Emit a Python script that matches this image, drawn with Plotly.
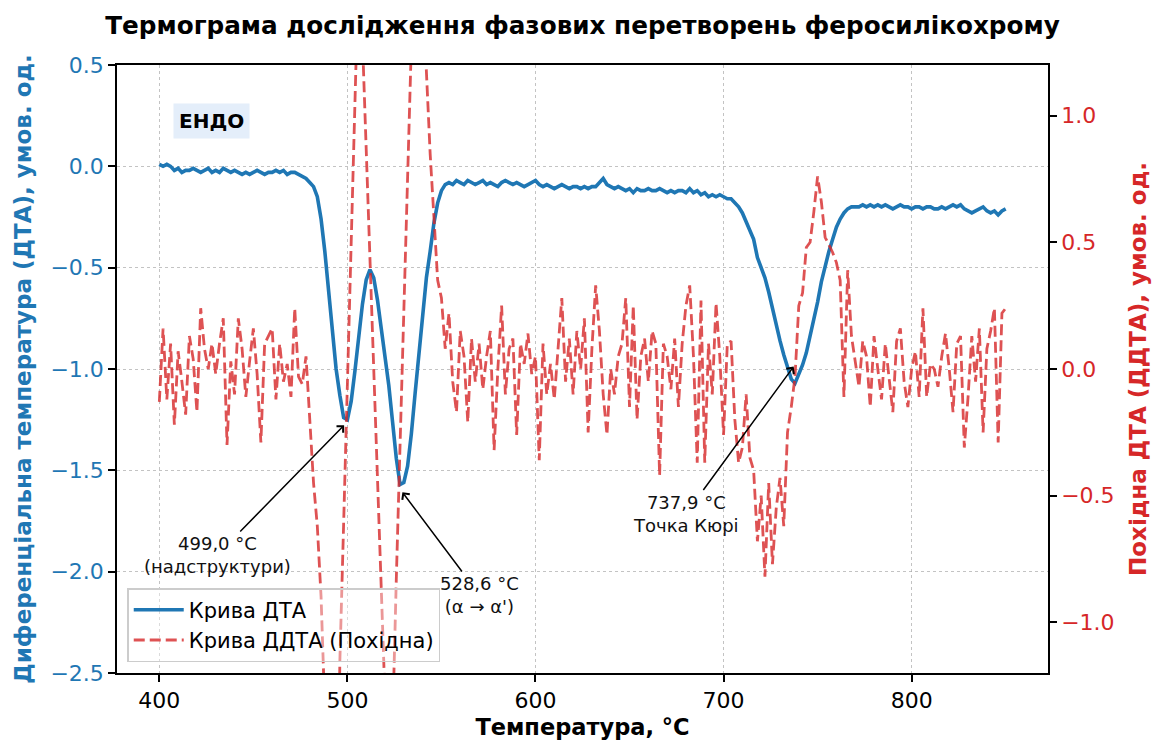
import plotly.graph_objects as go

# Temperature grid (°C), 2-degree step
temperature = list(range(400, 851, 2))

# DTA curve (left axis)
dta = [
    0.01, 0.0, 0.01, 0.0, -0.02, -0.01, -0.03, -0.02, -0.02, -0.01,        # 400-418
    -0.02, -0.03, -0.02, -0.01, -0.03, -0.02, -0.03, -0.01, -0.02, -0.03,  # 420-438
    -0.02, -0.03, -0.04, -0.03, -0.04, -0.03, -0.02, -0.03, -0.04, -0.03,  # 440-458
    -0.03, -0.02, -0.03, -0.02, -0.04, -0.03, -0.03, -0.04, -0.05, -0.06,  # 460-478
    -0.08, -0.1, -0.15, -0.26, -0.42, -0.62, -0.84, -1.0, -1.13, -1.24,    # 480-498
    -1.25, -1.16, -1.01, -0.85, -0.68, -0.56, -0.51, -0.55, -0.66, -0.8,   # 500-518
    -0.93, -1.08, -1.26, -1.44, -1.57, -1.56, -1.48, -1.32, -1.12, -0.92,  # 520-538
    -0.72, -0.55, -0.42, -0.28, -0.18, -0.12, -0.09, -0.08, -0.09, -0.07,  # 540-558
    -0.08, -0.09, -0.07, -0.08, -0.09, -0.08, -0.07, -0.09, -0.08, -0.09,  # 560-578
    -0.1, -0.08, -0.07, -0.08, -0.09, -0.08, -0.09, -0.1, -0.09, -0.08,    # 580-598
    -0.07, -0.09, -0.1, -0.09, -0.1, -0.11, -0.1, -0.09, -0.1, -0.11,      # 600-618
    -0.1, -0.1, -0.11, -0.1, -0.11, -0.1, -0.1, -0.08, -0.06, -0.09,       # 620-638
    -0.1, -0.11, -0.1, -0.11, -0.12, -0.11, -0.13, -0.11, -0.12, -0.12,    # 640-658
    -0.11, -0.12, -0.12, -0.11, -0.12, -0.13, -0.12, -0.13, -0.12, -0.12,  # 660-678
    -0.13, -0.11, -0.13, -0.12, -0.14, -0.13, -0.15, -0.14, -0.15, -0.14,  # 680-698
    -0.15, -0.16, -0.16, -0.18, -0.2, -0.23, -0.27, -0.32, -0.36, -0.45,   # 700-718
    -0.5, -0.55, -0.62, -0.7, -0.79, -0.86, -0.93, -0.99, -1.05, -1.07,    # 720-738
    -1.03, -0.98, -0.92, -0.84, -0.76, -0.67, -0.57, -0.49, -0.42, -0.36,  # 740-758
    -0.3, -0.26, -0.23, -0.21, -0.2, -0.2, -0.2, -0.19, -0.2, -0.19,       # 760-778
    -0.2, -0.19, -0.2, -0.19, -0.2, -0.21, -0.2, -0.19, -0.2, -0.2,        # 780-798
    -0.21, -0.2, -0.2, -0.21, -0.2, -0.2, -0.21, -0.21, -0.2, -0.21,       # 800-818
    -0.2, -0.19, -0.2, -0.19, -0.21, -0.22, -0.23, -0.22, -0.21, -0.2,     # 820-838
    -0.22, -0.23, -0.22, -0.24, -0.22, -0.21,                              # 840-850
]

# DDTA curve (derivative, right axis)
ddta = [
    -0.13, 0.16, -0.12, 0.1, -0.22, 0.07, -0.05, -0.18, 0.13, 0.04,        # 400-418
    -0.17, 0.24, 0.08, 0.0, 0.1, -0.02, 0.1, 0.2, -0.3, 0.03,              # 420-438
    -0.1, 0.2, 0.08, -0.11, 0.03, 0.16, -0.02, -0.29, 0.1, 0.13,           # 440-458
    0.16, -0.12, 0.1, -0.05, 0.02, -0.11, 0.24, -0.03, -0.06, 0.05,        # 460-478
    -0.2, -0.45, -0.62, -0.9, -1.35, -2.5, -3.0, -2.2, -1.15, -0.61,       # 480-498
    -0.08, 0.45, 0.99, 1.6, 1.3, 0.88, 0.44, 0.01, -0.42, -0.85,           # 500-518
    -1.3, -2.0, -1.36, -0.83, -0.3, 0.23, 0.75, 1.28, 2.0, 1.9,            # 520-538
    1.5, 1.15, 0.85, 0.6, 0.35, 0.28, 0.08, 0.22, -0.05, -0.17,            # 540-558
    0.15, 0.05, -0.21, 0.12, -0.05, 0.1, -0.08, 0.05, 0.15, -0.32,         # 560-578
    0.0, 0.25, -0.1, 0.08, 0.12, -0.26, 0.1, 0.02, 0.14, -0.02,            # 580-598
    0.05, -0.36, 0.1, -0.1, 0.02, -0.12, 0.1, 0.28, -0.05, 0.12,           # 600-618
    -0.1, 0.15, 0.0, 0.2, -0.25, 0.08, 0.33, 0.15, -0.1, -0.26,            # 620-638
    0.0, -0.1, 0.05, 0.1, 0.28, -0.15, 0.25, -0.2, 0.05, 0.12,             # 640-658
    -0.05, 0.15, 0.1, -0.42, 0.1, 0.05, -0.08, 0.12, -0.15, 0.1,           # 660-678
    0.25, 0.33, 0.05, -0.37, 0.27, -0.37, 0.1, -0.1, 0.26, 0.05,           # 680-698
    -0.26, 0.1, 0.11, -0.2, -0.37, -0.31, -0.1, -0.35, -0.4, -0.68,        # 700-718
    -0.5, -0.82, -0.45, -0.77, -0.55, -0.43, -0.62, -0.25, -0.15, -0.03,   # 720-738
    0.25, 0.3, 0.48, 0.5, 0.62, 0.76, 0.66, 0.52, 0.49, 0.46,              # 740-758
    0.42, 0.35, -0.11, 0.39, 0.13, 0.03, -0.07, 0.11, 0.05, -0.15,         # 760-778
    0.13, 0.0, -0.12, 0.1, -0.03, -0.17, 0.11, 0.16, -0.05, -0.15,         # 780-798
    0.0, 0.07, -0.11, 0.24, -0.11, 0.02, 0.0, -0.07, 0.05, 0.14,           # 800-818
    0.0, -0.17, 0.1, 0.13, -0.31, -0.11, 0.13, -0.05, 0.16, -0.25,         # 820-838
    0.08, 0.15, 0.24, -0.29, 0.22, 0.24,                                   # 840-850
]

x_ticks = [400, 500, 600, 700, 800]
left_ticks = [0.5, 0.0, -0.5, -1.0, -1.5, -2.0, -2.5]
right_ticks = [1.0, 0.5, 0.0, -0.5, -1.0]

# Annotated peaks: (point T, point value, text T, text value, label)
peaks_t = [499.0, 528.6, 737.9]
peaks_v = [-1.27, -1.6, -0.98]
labels_t = [430.8, 570.3, 680.1]
labels_v = [-1.918, -2.115, -1.713]
peak_texts = ["499,0 °C<br>(надструктури)", "528,6 °C<br>(α → α')", "737,9 °C<br>Точка Кюрі"]

BLUE = "#1f77b4"
RED = "#d62728"
FONT = "DejaVu Sans"

fig = go.Figure()
fig.add_trace(go.Scatter(
    x=temperature, y=dta, mode="lines", name="Крива ДТА",
    line=dict(color=BLUE, width=3.6), yaxis="y",
))
fig.add_trace(go.Scatter(
    x=temperature, y=ddta, mode="lines", name="Крива ДДТА (Похідна)",
    line=dict(color="rgba(214,39,40,0.8)", width=2.8, dash="11px,5px"), yaxis="y2",
))

annotations = []
for pt, pv, lt, lv, txt in zip(peaks_t, peaks_v, labels_t, labels_v, peak_texts):
    annotations.append(dict(
        x=pt, y=pv, xref="x", yref="y", ax=lt, ay=lv, axref="x", ayref="y",
        text=txt, showarrow=True, arrowhead=4, arrowsize=1.2, arrowwidth=1.5,
        arrowcolor="black", standoff=2, font=dict(family=FONT, size=18, color="#111"),
        align="center",
    ))
annotations.append(dict(
    x=0.102, y=0.908, xref="paper", yref="paper", text="<b>ЕНДО</b>", showarrow=False,
    font=dict(family=FONT, size=20, color="black"), bgcolor="#e4eefa", borderpad=5,
    xanchor="center", yanchor="middle",
))

fig.update_layout(
    width=1155, height=740,
    margin=dict(l=117, r=107, t=65, b=67),
    paper_bgcolor="white", plot_bgcolor="white",
    font=dict(family=FONT, size=22, color="black"),
    title=dict(
        text="<b>Термограма дослідження фазових перетворень феросилікохрому</b>",
        x=0.5, xref="paper", xanchor="center", y=1 - 25 / 740, yref="container", yanchor="middle",
        font=dict(family=FONT, size=24.7, color="black"),
    ),
    xaxis=dict(
        range=[377.5, 872.5], tickvals=x_ticks, ticks="outside", ticklen=7, tickwidth=1.6,
        tickcolor="black", showline=True, linecolor="black", linewidth=1.6, mirror=True,
        showgrid=True, gridcolor="rgba(170,170,170,0.7)", gridwidth=1.4, griddash="dot",
        zeroline=False, tickfont=dict(size=22, color="black"), automargin=False,
        title=dict(text="<b>Температура, °C</b>", font=dict(size=22.5, color="black"), standoff=14),
    ),
    yaxis=dict(
        range=[-2.5, 0.5], tickvals=left_ticks, tickformat=".1f", ticks="outside", ticklen=7,
        tickwidth=1.6, tickcolor="black", showline=True, linecolor="black", linewidth=1.6,
        showgrid=True, gridcolor="rgba(170,170,170,0.7)", gridwidth=1.4, griddash="dot",
        zeroline=False, tickfont=dict(size=22, color=BLUE), automargin=False,
        title=dict(text="<b>Диференціальна температура (ДТА), умов. од.</b>",
                   font=dict(size=23, color=BLUE), standoff=12),
    ),
    yaxis2=dict(
        range=[-1.2, 1.2], tickvals=right_ticks, tickformat=".1f", overlaying="y", side="right",
        ticks="outside", ticklen=7, tickwidth=1.6, tickcolor="black", showline=True,
        linecolor="black", linewidth=1.6, showgrid=False, zeroline=False, automargin=False,
        tickfont=dict(size=22, color=RED),
        title=dict(text="<b>Похідна ДТА (ДДТА), умов. од.</b>", font=dict(size=23, color=RED), standoff=16),
    ),
    legend=dict(
        x=0.011, y=0.018, xanchor="left", yanchor="bottom",
        bgcolor="rgba(255,255,255,0.4)", bordercolor="#cccccc", borderwidth=1.5,
        font=dict(size=21, color="black"), itemwidth=50, tracegroupgap=0,
    ),
    annotations=annotations,
    showlegend=True,
)

fig.write_html("out.html")
